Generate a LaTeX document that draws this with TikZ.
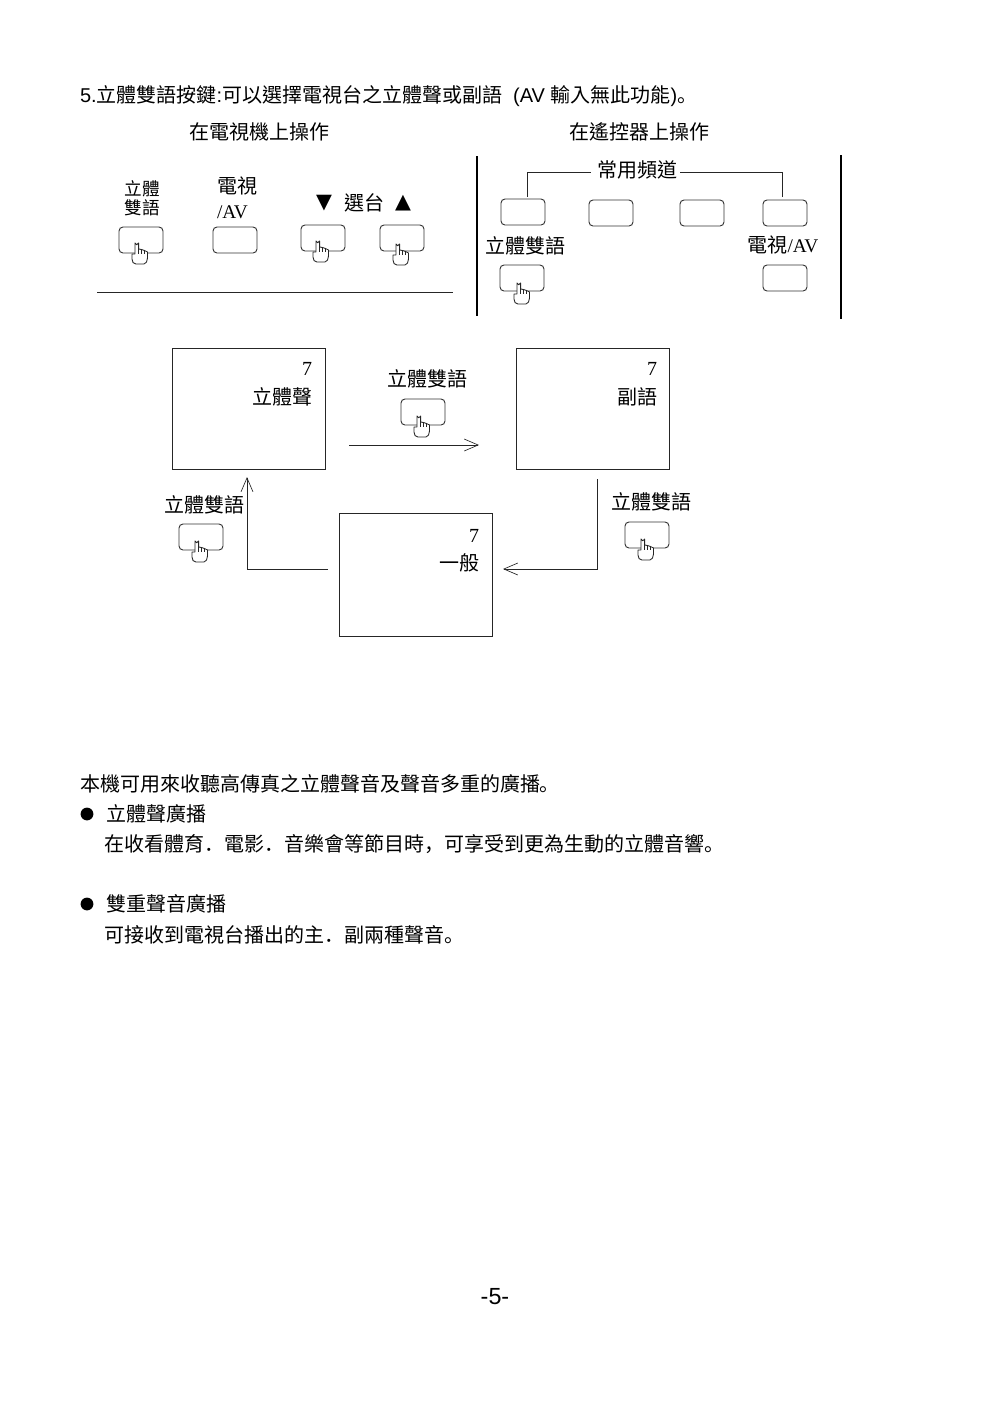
\documentclass[tikz,border=0pt]{standalone}
\usepackage{fontspec}
\setmainfont{Noto Sans CJK TC}
\newfontfamily\lat{Liberation Sans}
\newfontfamily\tms{Liberation Serif}
\newfontfamily\djv{DejaVu Sans}
\newfontfamily\punct{Noto Sans CJK SC}
\usetikzlibrary{arrows.meta,calc}
\newcommand{\fs}[1]{\fontsize{#1}{#1}\selectfont}
\tikzset{
  x=.75pt,y=-.75pt,
  body/.style={anchor=west,inner sep=0pt,outer sep=0pt,font=\fs{15},text=black},
  small/.style={anchor=west,inner sep=0pt,outer sep=0pt,font=\fs{13.2},text=black},
  numeral/.style={anchor=east,inner sep=0pt,outer sep=0pt,font=\tms\fs{15},text=black},
  tri/.style={inner sep=0pt,outer sep=0pt,font=\djv\fs{15.5},text=black},
  btn/.style={draw=black!80,line width=.7pt,rounded corners=3pt,minimum width=33pt,minimum height=19.5pt,inner sep=0pt,outer sep=0pt},
  screen/.style={draw=black!85,line width=.6pt,minimum width=115.2pt,inner sep=0pt,outer sep=0pt},
  wire/.style={draw=black!85,line width=.7pt},
  flow/.style={wire,-{Straight Barb[length=10.5pt,width=9pt,line width=.5pt]}},
  rule/.style={draw=black,line width=1.5pt},
  dot/.style={fill=black,circle,minimum size=9.6pt,inner sep=0pt},
  hand/.pic={
    \draw[fill=white,line width=.65pt,draw=black!85,line join=round]
      (0,-1) arc[start angle=180,end angle=0,radius=1.8]
      -- (3.6,5) -- (6.5,5.5) -- (9.5,6.5) -- (12.5,8) -- (12.5,14)
      .. controls (12.5,17) and (11,20) .. (9,20) -- (1,20)
      .. controls (-1.5,20) and (-3,18) .. (-3,15) -- (-3,10) -- (0,10) -- cycle;
    \draw[line width=.55pt,draw=black!85] (3.6,5) -- (3.6,9.5) (6.5,5.5) -- (6.5,9.5) (9.5,6.5) -- (9.5,9.5);
  }
}
\begin{document}
\begin{tikzpicture}
\useasboundingbox (0,0) rectangle (992,1404);
% headings
\node[body] (t1) at (80,96) {{\lat 5.}立體雙語按鍵{\lat :}可以選擇電視台之立體聲或副語\hspace{8.2pt}{\lat (AV }輸入無此功能{\lat )}{\punct 。}};
\node[body] (t2) at (189.5,132) {在電視機上操作};
\node[body] (t3) at (569.5,132) {在遙控器上操作};
% TV panel
\node[small] (l1) at (124.5,189) {立體};
\node[small] (l2) at (124.5,208) {雙語};
\node[body] (l3) at (217,186) {電視};
\node[body,font=\tms\fs{14.5}] (l4) at (217,212) {/AV};
\node[tri] (l5a) at (324,203) {▼};
\node[body] (l5) at (344.5,203) {選台};
\node[tri] (l5b) at (403,203) {▲};
\node[btn] (p1) at (141,240) {};
\node[btn] (p2) at (235,240) {};
\node[btn] (p3) at (323,238) {};
\node[btn] (p4) at (402,238) {};
\pic at (135,244) {hand};
\pic at (316,242) {hand};
\pic at (396,245) {hand};
\coordinate (ra) at (97,292);
\coordinate (rb) at (453,292);
\draw[wire] (ra) -- (rb);
% remote panel
\coordinate (v1a) at (477,156); \coordinate (v1b) at (477,316);
\coordinate (v2a) at (841,155); \coordinate (v2b) at (841,319);
\draw[rule] (v1a) -- (v1b);
\draw[rule] (v2a) -- (v2b);
\node[body] (fq) at (597.5,170) {常用頻道};
\node[btn] (r1) at (523,212) {};
\node[btn] (r2) at (611,213) {};
\node[btn] (r3) at (702,213) {};
\node[btn] (r4) at (785,213) {};
\node[btn] (r5) at (522,278) {};
\node[btn] (r6) at (785,278) {};
\pic at (517,284) {hand};
\coordinate (b1) at (527.7,197);
\coordinate (b2) at (782.7,197);
\draw[wire] (b1) -- (527.7,172) -- (591,172);
\draw[wire] (b2) -- (782.7,172) -- (680,172);
\node[body] (rl1) at (485.5,246) {立體雙語};
\node[body] (rl2) at (747.5,245) {電視{\tms\fs{14.5}/AV}};
% screens
\node[screen,minimum height=91.2pt] (s1) at (249,409) {};
\node[screen,minimum height=91.2pt] (s2) at (593,409) {};
\node[screen,minimum height=92.8pt] (s3) at (416,575) {};
\node[numeral] (n1) at (312,369) {7};
\node[body,anchor=east] (a1) at (312.5,397) {立體聲};
\node[numeral] (n2) at (657,369) {7};
\node[body,anchor=east] (a2) at (657,397) {副語};
\node[numeral] (n3) at (479,536) {7};
\node[body,anchor=east] (a3) at (479,563) {一般};
% transitions
\node[body] (k1) at (387.5,379) {立體雙語};
\node[btn] (q1) at (423,412) {};
\pic at (417,417) {hand};
\node[body] (k2) at (611.5,502) {立體雙語};
\node[btn] (q2) at (647,535) {};
\pic at (641,540) {hand};
\node[body] (k3) at (164.5,505) {立體雙語};
\node[btn] (q3) at (201,537) {};
\pic at (195,542) {hand};
\coordinate (f1a) at (349,445); \coordinate (f1b) at (479,445);
\coordinate (f2a) at (597,479); \coordinate (f2b) at (503,569);
\coordinate (f3a) at (328,569); \coordinate (f3b) at (247,477);
\draw[flow] (f1a) -- (f1b);
\draw[flow] (f2a) |- (f2b);
\draw[flow] (f3a) -| (f3b);
% text
\node[body] (x1) at (80,784) {本機可用來收聽高傳真之立體聲音及聲音多重的廣播{\punct 。}};
\node[dot] (d1) at (87,814) {};
\node[body] (x2) at (106.5,814) {立體聲廣播};
\node[body] (x3) at (104.5,844) {在收看體育{\punct ．}電影{\punct ．}音樂會等節目時{\punct ，}可享受到更為生動的立體音響{\punct 。}};
\node[dot] (d2) at (87,904) {};
\node[body] (x4) at (106.5,904) {雙重聲音廣播};
\node[body] (x5) at (104.5,935) {可接收到電視台播出的主{\punct ．}副兩種聲音{\punct 。}};
\node[body,font=\lat\fs{17.5},anchor=center] (pg) at (495,1297) {-5-};
\end{tikzpicture}
\end{document}
